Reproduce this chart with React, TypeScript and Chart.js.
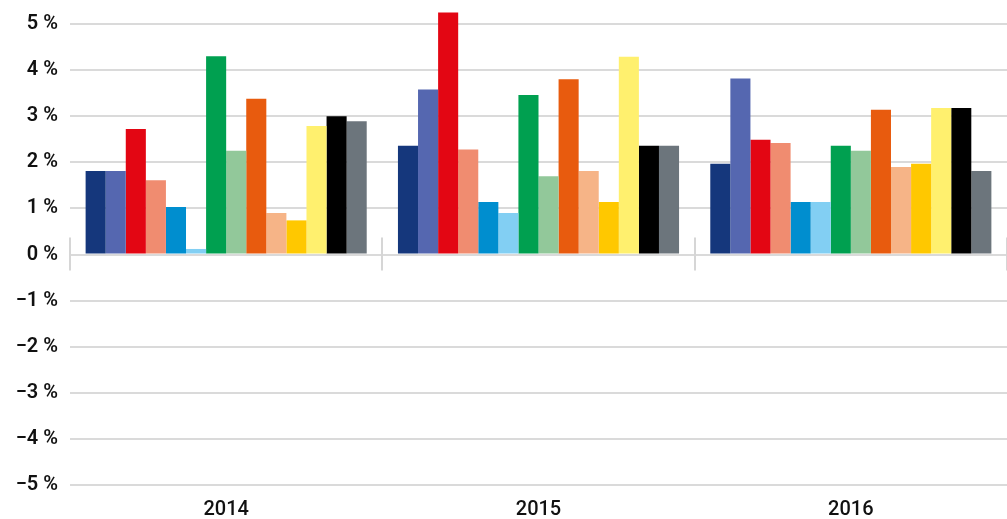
import React, { useEffect, useRef } from "react";
import { Chart, registerables } from "chart.js";

Chart.register(...registerables);

const categories = ["2014", "2015", "2016"];

const seriesColors = [
  "#15377c", "#5567b0", "#e30613", "#f08c70", "#008ecf", "#82cff3", "#00a050",
  "#92c89a", "#e85b0e", "#f6b487", "#ffc800", "#fff06e", "#000000", "#6c757c",
];

const s1 = [1.81, 2.36, 1.97];
const s2 = [1.81, 3.58, 3.82];
const s3 = [2.72, 5.25, 2.49];
const s4 = [1.61, 2.28, 2.42];
const s5 = [1.03, 1.14, 1.14];
const s6 = [0.12, 0.90, 1.14];
const s7 = [4.30, 3.46, 2.36];
const s8 = [2.25, 1.70, 2.25];
const s9 = [3.38, 3.80, 3.14];
const s10 = [0.90, 1.81, 1.90];
const s11 = [0.74, 1.14, 1.97];
const s12 = [2.79, 4.29, 3.18];
const s13 = [3.00, 2.36, 3.18];
const s14 = [2.89, 2.36, 1.81];

const seriesValues = [s1, s2, s3, s4, s5, s6, s7, s8, s9, s10, s11, s12, s13, s14];

const yTicks = [-5, -4, -3, -2, -1, 0, 1, 2, 3, 4, 5];

const zeroTicks = {
  id: "zeroTicks",
  afterDatasetsDraw(chart: any) {
    const { ctx, chartArea, scales } = chart;
    const y0 = scales.y.getPixelForValue(0);
    const n = categories.length;
    const w = (chartArea.right - chartArea.left) / n;
    ctx.save();
    ctx.strokeStyle = "#d6d6d6";
    ctx.lineWidth = 2;
    for (let i = 0; i <= n; i++) {
      const x = Math.round(chartArea.left + i * w);
      ctx.beginPath();
      ctx.moveTo(x, y0 - 17);
      ctx.lineTo(x, y0 + 16);
      ctx.stroke();
    }
    ctx.restore();
  },
};

export default function App() {
  const ref = useRef<HTMLCanvasElement>(null);
  useEffect(() => {
    document.body.style.margin = "0";
    const chart = new Chart(ref.current!, {
      type: "bar",
      data: {
        labels: categories,
        datasets: seriesValues.map((vals, i) => ({
          label: "S" + (i + 1),
          data: vals,
          backgroundColor: seriesColors[i],
          borderWidth: 0,
          categoryPercentage: 0.9,
          barPercentage: 1.0,
          clip: false as any,
        })),
      },
      options: {
        animation: false,
        responsive: false,
        layout: { padding: { top: 23, right: 0, left: 0, bottom: 0 } },
        plugins: { legend: { display: false }, tooltip: { enabled: false } },
        scales: {
          x: {
            grid: { display: false, drawTicks: false },
            border: { display: false },
            ticks: {
              color: "#111",
              font: { family: "Roboto", size: 20, weight: 500 },
              padding: 13,
            },
            afterFit(scale: any) {
              scale.height = 34;
            },
          },
          y: {
            min: -5,
            max: 5,
            afterBuildTicks(scale: any) {
              scale.ticks = yTicks.map((v) => ({ value: v }));
            },
            grid: { color: "#dadada", lineWidth: 2, drawTicks: false },
            border: { display: false },
            ticks: {
              color: "#111",
              font: { family: "Roboto", size: 20, weight: 600 },
              padding: 12,
              callback: (v: any) => (Number(v) < 0 ? "\u2212" + Math.abs(Number(v)) : String(v)) + " %",
            },
            afterFit(scale: any) {
              scale.width = 70;
            },
          },
        },
      },
      plugins: [zeroTicks],
    });
    return () => chart.destroy();
  }, []);
  return <canvas ref={ref} width={1007} height={519} style={{ display: "block" }} />;
}
